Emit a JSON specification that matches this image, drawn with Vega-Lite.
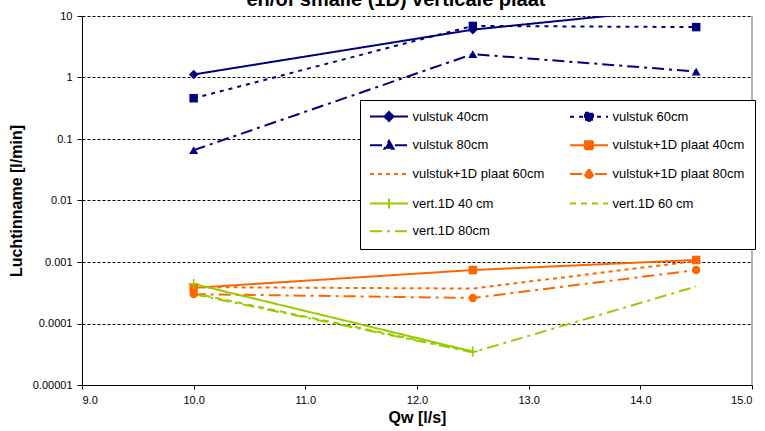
{
  "$schema": "https://vega.github.io/schema/vega-lite/v6.json",
  "width": 670,
  "height": 369,
  "autosize": "none",
  "padding": {"left": 82, "top": 16, "right": 13, "bottom": 46},
  "background": "white",
  "title": {"text": "en/of smalle (1D) verticale plaat", "fontSize": 20, "fontWeight": "bold", "font": "Liberation Sans", "color": "black", "anchor": "middle", "frame": "group", "dx": -21, "offset": -5},
  "config": {
    "view": {"stroke": null},
    "font": "Liberation Sans",
    "legend": {"orient": "none", "legendX": 278, "legendY": 84, "direction": "horizontal", "columns": 2, "title": null, "padding": 10, "strokeColor": "black", "fillColor": "white", "cornerRadius": 0, "labelFont": "Liberation Sans", "labelFontSize": 13, "labelColor": "black", "symbolSize": 100, "symbolStrokeWidth": 2, "symbolOffset": 12.5, "labelOffset": 17, "rowPadding": 11.7, "columnPadding": 21, "labelLimit": 300}
  },
  "data": {"values": [
    {"series": "vulstuk 40cm", "x": 10, "y": 1.12},
    {"series": "vulstuk 40cm", "x": 12.5, "y": 6.0},
    {"series": "vulstuk 40cm", "x": 14.5, "y": 14},
    {"series": "vulstuk 60cm", "x": 10, "y": 0.46},
    {"series": "vulstuk 60cm", "x": 12.5, "y": 6.9},
    {"series": "vulstuk 60cm", "x": 14.5, "y": 6.6},
    {"series": "vulstuk 80cm", "x": 10, "y": 0.066},
    {"series": "vulstuk 80cm", "x": 12.5, "y": 2.4},
    {"series": "vulstuk 80cm", "x": 14.5, "y": 1.25},
    {"series": "vulstuk+1D plaat 40cm", "x": 10, "y": 0.00038},
    {"series": "vulstuk+1D plaat 40cm", "x": 12.5, "y": 0.00074},
    {"series": "vulstuk+1D plaat 40cm", "x": 14.5, "y": 0.00108},
    {"series": "vulstuk+1D plaat 60cm", "x": 10, "y": 0.00039},
    {"series": "vulstuk+1D plaat 60cm", "x": 12.5, "y": 0.00037},
    {"series": "vulstuk+1D plaat 60cm", "x": 14.5, "y": 0.00104},
    {"series": "vulstuk+1D plaat 80cm", "x": 10, "y": 0.0003},
    {"series": "vulstuk+1D plaat 80cm", "x": 12.5, "y": 0.00026},
    {"series": "vulstuk+1D plaat 80cm", "x": 14.5, "y": 0.00074},
    {"series": "vert.1D 40 cm", "x": 10, "y": 0.00044},
    {"series": "vert.1D 40 cm", "x": 12.5, "y": 0.000035},
    {"series": "vert.1D 60 cm", "x": 10, "y": 0.00031},
    {"series": "vert.1D 60 cm", "x": 12.5, "y": 0.000035},
    {"series": "vert.1D 80cm", "x": 10, "y": 0.0003},
    {"series": "vert.1D 80cm", "x": 12.5, "y": 0.000034},
    {"series": "vert.1D 80cm", "x": 14.5, "y": 0.0004}
  ]},
  "layer": [
    {
      "mark": {"type": "line", "strokeWidth": 2, "clip": true},
      "encoding": {
        "x": {"field": "x", "type": "quantitative", "scale": {"domain": [9, 15], "nice": false, "zero": false},
          "axis": {"title": "Qw [l/s]", "values": [9, 10, 11, 12, 13, 14, 15], "format": ".1f", "grid": false, "domainColor": "black", "tickColor": "black", "tickSize": 4, "labelFontSize": 11, "labelColor": "black", "labelFont": "Liberation Sans", "labelPadding": 5, "titleFont": "Liberation Sans", "titleFontSize": 16, "titleFontWeight": "bold", "titleColor": "black", "titlePadding": 4}},
        "y": {"field": "y", "type": "quantitative", "scale": {"type": "log", "domain": [0.00001, 10], "nice": false},
          "axis": {"title": "Luchtinname [l/min]", "values": [0.00001, 0.0001, 0.001, 0.01, 0.1, 1, 10], "format": "~g", "grid": true, "gridColor": "black", "gridDash": [3, 2], "gridWidth": 1, "domainColor": "black", "tickColor": "black", "tickSize": 5, "labelFontSize": 11, "labelColor": "black", "labelFont": "Liberation Sans", "labelPadding": 5, "titleFont": "Liberation Sans", "titleFontSize": 16, "titleFontWeight": "bold", "titleColor": "black", "titlePadding": 8}},
        "color": {"field": "series", "type": "nominal",
          "scale": {"domain": ["vulstuk 40cm", "vulstuk 60cm", "vulstuk 80cm", "vulstuk+1D plaat 40cm", "vulstuk+1D plaat 60cm", "vulstuk+1D plaat 80cm", "vert.1D 40 cm", "vert.1D 60 cm", "vert.1D 80cm"],
            "range": ["#000080", "#000080", "#000080", "#FF6600", "#FF6600", "#FF6600", "#99CC00", "#99CC00", "#99CC00"]}},
        "strokeDash": {"field": "series", "type": "nominal",
          "scale": {"domain": ["vulstuk 40cm", "vulstuk 60cm", "vulstuk 80cm", "vulstuk+1D plaat 40cm", "vulstuk+1D plaat 60cm", "vulstuk+1D plaat 80cm", "vert.1D 40 cm", "vert.1D 60 cm", "vert.1D 80cm"],
            "range": [[1, 0], [4, 5], [12, 5, 3, 5], [1, 0], [4, 4], [12, 5, 3, 5], [1, 0], [6, 5], [12, 5, 3, 5]]}}
      }
    },
    {
      "mark": {"type": "point", "filled": true, "opacity": 0},
      "encoding": {
        "x": {"field": "x", "type": "quantitative"},
        "y": {"field": "y", "type": "quantitative"},
        "color": {"field": "series", "type": "nominal"},
        "shape": {"field": "series", "type": "nominal",
          "scale": {"domain": ["vulstuk 40cm", "vulstuk 60cm", "vulstuk 80cm", "vulstuk+1D plaat 40cm", "vulstuk+1D plaat 60cm", "vulstuk+1D plaat 80cm", "vert.1D 40 cm", "vert.1D 60 cm", "vert.1D 80cm"],
            "range": ["M-3.8,0H3.8M0,-0.9L0.9,0L0,0.9L-0.9,0Z", "M-3.8,0H3.8M-0.8,-0.8H0.8V0.8H-0.8Z", "M-3.8,0H3.8M0,-0.9L0.9,0.7H-0.9Z", "M-3.8,0H3.8M-0.8,-0.8H0.8V0.8H-0.8Z", "M-3.8,0H3.8", "M-3.8,0H3.8M0.8,0A0.8,0.8,0,1,1,-0.8,0A0.8,0.8,0,1,1,0.8,0Z", "M-3.8,0H3.8M0,-1V1", "M-3.8,0H3.8", "M-3.8,0H3.8"]}}
      }
    },
    {
      "transform": [{"filter": {"field": "series", "equal": "vulstuk 40cm"}}],
      "mark": {"type": "point", "shape": "diamond", "filled": true, "size": 90, "opacity": 1, "clip": true},
      "encoding": {
        "x": {"field": "x", "type": "quantitative"},
        "y": {"field": "y", "type": "quantitative"},
        "color": {"field": "series", "type": "nominal"}
      }
    },
    {
      "transform": [{"filter": {"field": "series", "oneOf": ["vulstuk 60cm", "vulstuk+1D plaat 40cm"]}}],
      "mark": {"type": "point", "shape": "square", "filled": true, "size": 72, "opacity": 1, "clip": true},
      "encoding": {
        "x": {"field": "x", "type": "quantitative"},
        "y": {"field": "y", "type": "quantitative"},
        "color": {"field": "series", "type": "nominal"}
      }
    },
    {
      "transform": [{"filter": {"field": "series", "equal": "vulstuk 80cm"}}],
      "mark": {"type": "point", "shape": "triangle-up", "filled": true, "size": 80, "opacity": 1, "clip": true},
      "encoding": {
        "x": {"field": "x", "type": "quantitative"},
        "y": {"field": "y", "type": "quantitative"},
        "color": {"field": "series", "type": "nominal"}
      }
    },
    {
      "transform": [{"filter": {"field": "series", "equal": "vulstuk+1D plaat 80cm"}}],
      "mark": {"type": "point", "shape": "circle", "filled": true, "size": 70, "opacity": 1, "clip": true},
      "encoding": {
        "x": {"field": "x", "type": "quantitative"},
        "y": {"field": "y", "type": "quantitative"},
        "color": {"field": "series", "type": "nominal"}
      }
    },
    {
      "transform": [{"filter": {"field": "series", "equal": "vert.1D 40 cm"}}],
      "mark": {"type": "point", "shape": "M-1,0H1M0,-1V1", "filled": false, "strokeWidth": 1.5, "size": 110, "opacity": 1, "clip": true},
      "encoding": {
        "x": {"field": "x", "type": "quantitative"},
        "y": {"field": "y", "type": "quantitative"},
        "color": {"field": "series", "type": "nominal"}
      }
    },
    {
      "mark": {"type": "rule", "color": "#b3b3b3", "strokeWidth": 2},
      "encoding": {"x": {"datum": 15}}
    }
  ]
}
